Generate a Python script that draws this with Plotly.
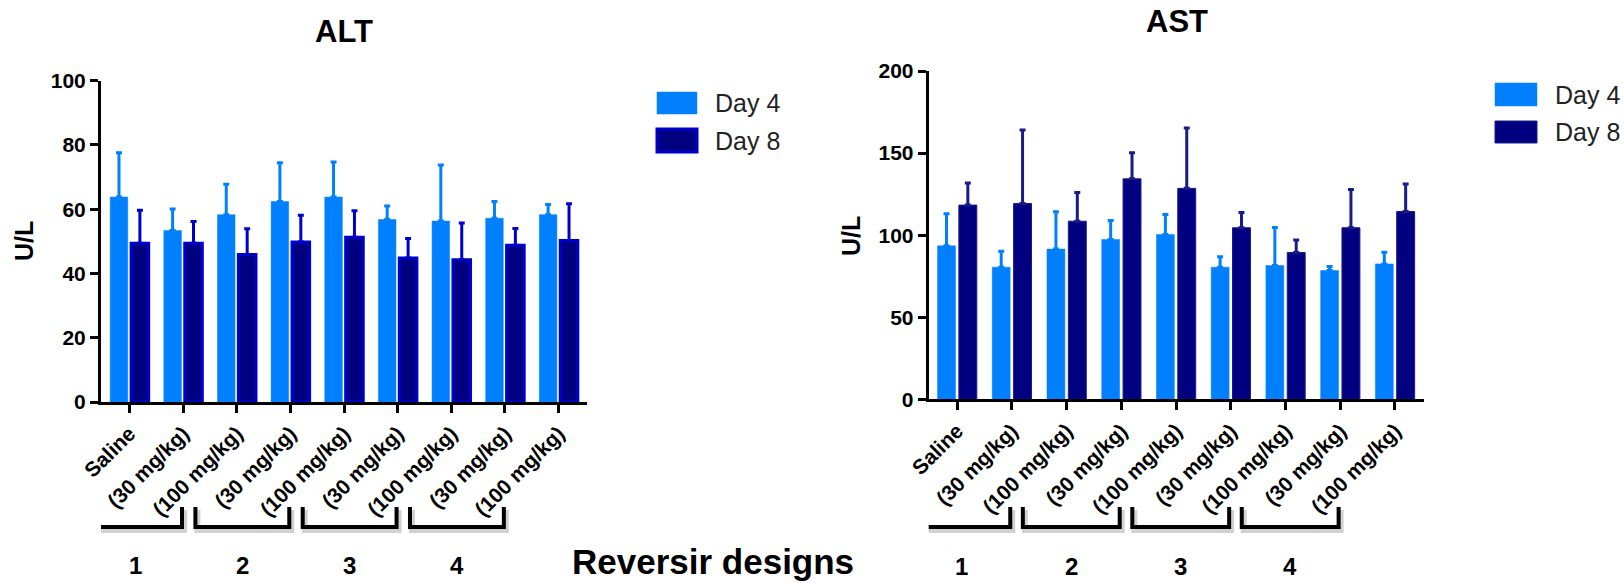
import plotly.graph_objects as go

W, H = 1624, 583


def fx(px):
    return px / W


def fy(py):
    return 1 - py / H


# ---------------- data ----------------
categories = ["Saline"] + ["(30 mg/kg)", "(100 mg/kg)"] * 4
designs = ["1", "2", "3", "4"]
series = ["Day 4", "Day 8"]

alt_day4 = [63.8, 53.4, 58.3, 62.4, 63.8, 56.8, 56.3, 57.2, 58.3]
alt_day4_err = [13.8, 6.7, 9.5, 12.1, 10.9, 4.2, 17.5, 5.2, 3.2]
alt_day8 = [49.4, 49.4, 45.9, 49.8, 51.3, 44.8, 44.3, 48.8, 50.3]
alt_day8_err = [10.3, 6.8, 8.0, 8.3, 8.2, 6.1, 11.4, 5.2, 11.4]

ast_day4 = [93.5, 80.5, 91.5, 97.4, 100.4, 80.5, 81.5, 78.5, 82.5]
ast_day4_err = [19.5, 9.7, 22.7, 11.5, 12.2, 6.3, 23.2, 2.4, 7.1]
ast_day8 = [118.3, 119.3, 108.5, 134.3, 128.5, 104.5, 89.4, 104.5, 114.4]
ast_day8_err = [13.4, 44.7, 17.5, 15.9, 36.7, 9.3, 7.6, 23.3, 16.7]

# ---------------- styles ----------------
FONT = "Arial, Liberation Sans, sans-serif"
C4 = "#0080FF"
C8 = "#000080"
C8_ALT_EDGE = "#0000CC"
C8_AST_EDGE = "#1A1A8C"

x = list(range(len(categories)))
zeros = [0] * len(categories)

fig = go.Figure()


def add_bar(y, err, name, fill, edge, edge_w, err_col, xa, ya):
    fig.add_trace(go.Bar(
        x=x, y=y, name=name, showlegend=False,
        marker=dict(color=fill, line=dict(color=edge, width=edge_w)),
        error_y=dict(type="data", symmetric=False, array=err, arrayminus=zeros,
                     color=err_col, thickness=3, width=3),
        xaxis=xa, yaxis=ya,
    ))


add_bar(alt_day4, alt_day4_err, series[0], C4, C4, 0.5, C4, "x", "y")
add_bar(alt_day8, alt_day8_err, series[1], C8, C8_ALT_EDGE, 3, C8_ALT_EDGE, "x", "y")
add_bar(ast_day4, ast_day4_err, series[0], C4, C4, 0.5, C4, "x2", "y2")
add_bar(ast_day8, ast_day8_err, series[1], C8, C8_AST_EDGE, 1, C8_AST_EDGE, "x2", "y2")

tickfont = dict(family=FONT, size=21, color="black", weight="bold")
xtickfont = dict(family=FONT, size=21, color="black", weight="bold")

common_x = dict(
    tickmode="array", tickvals=x, ticktext=categories, tickangle=-45,
    ticks="outside", ticklen=8, tickwidth=3, tickcolor="black",
    showline=True, linewidth=3, linecolor="black", automargin=False,
    showgrid=False, zeroline=False, tickfont=xtickfont, fixedrange=True,
)
common_y = dict(
    ticks="outside", ticklen=8, tickwidth=3, tickcolor="black",
    showline=True, linewidth=3, linecolor="black", automargin=False,
    showgrid=False, zeroline=False, tickfont=tickfont, fixedrange=True,
)

fig.update_layout(
    width=W, height=H,
    margin=dict(l=0, r=0, t=0, b=0, autoexpand=False),
    paper_bgcolor="white", plot_bgcolor="white",
    barmode="group", bargap=0.22, bargroupgap=0.16,
    showlegend=False,
    xaxis=dict(domain=[fx(101), fx(587)], range=[-0.53, 8.53], anchor="y", **common_x),
    yaxis=dict(domain=[fy(402), fy(80.7)], range=[0, 100], dtick=20, anchor="x", **common_y),
    xaxis2=dict(domain=[fx(928.7), fx(1424)], range=[-0.52, 8.53], anchor="y2", **common_x),
    yaxis2=dict(domain=[fy(399.3), fy(71)], range=[0, 200], dtick=50, anchor="x2", **common_y),
)

annotations = []
shapes = []

# titles
annotations.append(dict(text="ALT", x=fx(344), y=fy(32), xref="paper", yref="paper",
                        showarrow=False, xanchor="center", yanchor="middle",
                        font=dict(family=FONT, size=31, color="black", weight="bold")))
annotations.append(dict(text="AST", x=fx(1177), y=fy(22), xref="paper", yref="paper",
                        showarrow=False, xanchor="center", yanchor="middle",
                        font=dict(family=FONT, size=31, color="black", weight="bold")))
# y-axis titles
for px_, py_ in [(24, 241), (851, 236)]:
    annotations.append(dict(text="U/L", x=fx(px_), y=fy(py_), xref="paper", yref="paper",
                            showarrow=False, textangle=-90, xanchor="center", yanchor="middle",
                            font=dict(family=FONT, size=25, color="black", weight="bold")))

# legends (manual, large swatches)
legends = [
    dict(sw=(657, 697), rows=[(92, 114), (129, 152)], tx=713, edges=[C4, C8_ALT_EDGE], ew=[0.5, 3]),
    dict(sw=(1495, 1537), rows=[(83, 106), (121, 143)], tx=1553, edges=[C4, C8_AST_EDGE], ew=[0.5, 1]),
]
fills = [C4, C8]
for lg in legends:
    for i, (y0, y1) in enumerate(lg["rows"]):
        shapes.append(dict(type="rect", xref="paper", yref="paper",
                           x0=fx(lg["sw"][0]), x1=fx(lg["sw"][1]), y0=fy(y1), y1=fy(y0),
                           fillcolor=fills[i], line=dict(color=lg["edges"][i], width=lg["ew"][i])))
        annotations.append(dict(text=series[i], x=fx(lg["tx"]), y=fy((y0 + y1) / 2),
                                xref="paper", yref="paper", showarrow=False,
                                xanchor="left", yanchor="middle",
                                font=dict(family=FONT, size=25, color="#222222")))

# design brackets
bracket_specs = [
    dict(xref="x", off=(-0.77, 0.98), top=507, bot=527, num_y=565, dpx=53.67),
    dict(xref="x2", off=(-0.80, 0.97), top=507, bot=527, num_y=566, dpx=54.7),
]
for bs in bracket_specs:
    for k, lab in enumerate(designs):
        x0 = 2 * k + bs["off"][0]
        x1 = 2 * k + bs["off"][1]
        sx = 2.0 / bs["dpx"]
        sy = 3.0 / H
        # soft shadow
        shapes.append(dict(type="path", xref=bs["xref"], yref="paper",
                           path=f"M {x0 + sx},{fy(bs['top']) - sy} L {x0 + sx},{fy(bs['bot']) - sy} "
                                f"L {x1 + sx},{fy(bs['bot']) - sy} L {x1 + sx},{fy(bs['top']) - sy}",
                           line=dict(color="rgba(0,0,0,0.18)", width=6)))
        shapes.append(dict(type="path", xref=bs["xref"], yref="paper",
                           path=f"M {x0},{fy(bs['top'])} L {x0},{fy(bs['bot'])} "
                                f"L {x1},{fy(bs['bot'])} L {x1},{fy(bs['top'])}",
                           line=dict(color="black", width=4)))
        annotations.append(dict(text=lab, x=(x0 + x1) / 2, y=fy(bs["num_y"]),
                                xref=bs["xref"], yref="paper", showarrow=False,
                                xanchor="center", yanchor="middle",
                                font=dict(family=FONT, size=24, color="black", weight="bold")))

annotations.append(dict(text="Reversir designs", x=fx(713), y=fy(561), xref="paper", yref="paper",
                        showarrow=False, xanchor="center", yanchor="middle",
                        font=dict(family=FONT, size=35, color="black", weight="bold")))

fig.update_layout(annotations=annotations, shapes=shapes)

fig.write_html("out.html")
